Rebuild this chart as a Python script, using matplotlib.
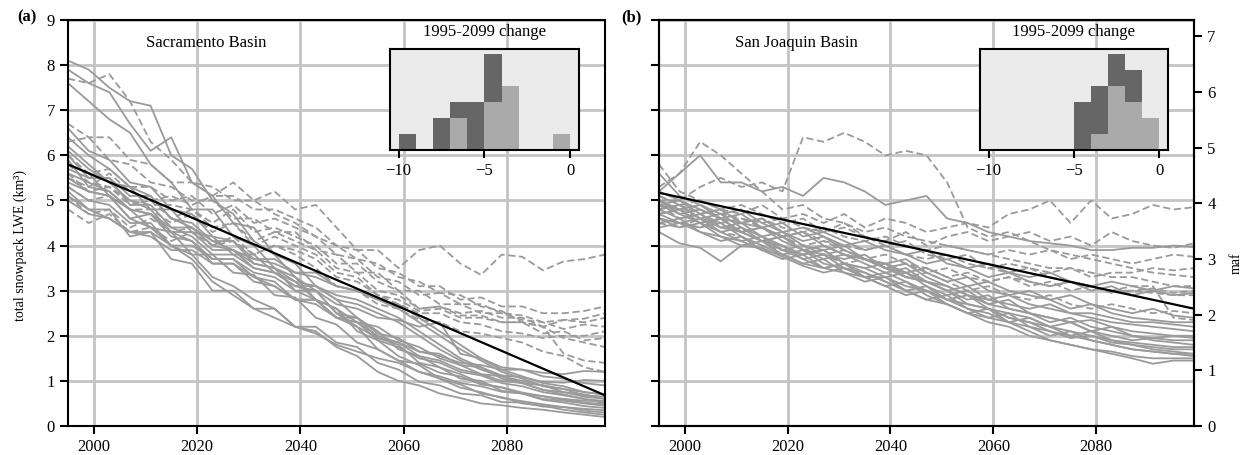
import matplotlib
matplotlib.use('Agg')
import matplotlib.pyplot as plt

plt.rcParams['font.family'] = ['Liberation Serif', 'DejaVu Serif']
plt.rcParams['font.size'] = 12

# years sampled every 4 years, 1995..2099
years = list(range(1995, 2100, 4))
KM3_PER_MAF = 1.2335

# Sacramento basin, km3 (solid runs)
sac_solid = [
    [8.1, 7.9, 7.5, 7.2, 7.1, 6.0, 5.7, 5.0, 4.7, 4.1, 3.8, 3.3, 3.0, 2.5, 2.2, 1.7, 1.45, 1.2, 1.05, 0.85, 0.75, 0.62, 0.55, 0.48, 0.42, 0.38, 0.35],
    [7.9, 7.6, 7.4, 6.7, 6.1, 6.4, 5.4, 5.1, 4.5, 4.4, 3.8, 3.6, 3.1, 2.8, 2.4, 2.1, 1.7, 1.55, 1.3, 1.15, 0.95, 0.85, 0.72, 0.66, 0.58, 0.52, 0.48],
    [7.6, 7.2, 6.8, 6.5, 5.8, 5.4, 4.8, 4.8, 4.2, 4.0, 3.5, 3.3, 2.8, 2.6, 2.1, 1.9, 1.55, 1.35, 1.05, 0.92, 0.72, 0.64, 0.5, 0.45, 0.36, 0.3, 0.25],
    [6.4, 6.0, 5.7, 5.3, 5.1, 4.6, 4.4, 4.1, 3.9, 3.6, 3.5, 3.2, 3.1, 2.9, 2.8, 2.6, 2.4, 2.1, 1.8, 1.5, 1.3, 1.05, 0.95, 0.8, 0.7, 0.6, 0.5],
    [6.1, 5.7, 5.4, 5.0, 4.8, 4.3, 4.1, 3.6, 3.6, 3.2, 3.1, 2.8, 2.7, 2.4, 2.2, 1.95, 1.85, 1.65, 1.55, 1.4, 1.35, 1.25, 1.25, 1.18, 1.15, 1.22, 1.2],
    [6.0, 5.5, 5.5, 4.9, 4.9, 4.4, 4.2, 3.8, 3.8, 3.5, 3.4, 3.1, 3.1, 2.8, 2.7, 2.5, 2.3, 2.0, 1.7, 1.45, 1.25, 1.1, 1.0, 0.9, 0.82, 0.75, 0.7],
    [5.8, 5.6, 5.1, 4.8, 4.4, 4.3, 3.8, 3.8, 3.4, 3.35, 2.9, 2.85, 2.4, 2.25, 1.85, 1.7, 1.45, 1.38, 1.18, 1.1, 0.92, 0.86, 0.74, 0.66, 0.6, 0.56, 0.55],
    [5.6, 5.4, 5.2, 4.8, 4.7, 4.3, 4.3, 3.9, 3.9, 3.5, 3.4, 3.1, 3.0, 2.7, 2.6, 2.4, 2.35, 2.2, 2.3, 1.6, 1.5, 1.3, 1.25, 1.1, 1.05, 0.95, 0.9],
    [5.5, 5.2, 5.1, 4.6, 4.4, 4.0, 3.8, 3.3, 3.1, 2.8, 2.6, 2.2, 2.1, 1.75, 1.55, 1.2, 1.0, 0.9, 0.72, 0.62, 0.5, 0.46, 0.4, 0.36, 0.3, 0.25, 0.2],
    [5.3, 5.0, 4.9, 4.5, 4.5, 4.0, 3.7, 3.2, 2.9, 2.6, 2.4, 2.2, 2.05, 1.8, 1.65, 1.5, 1.4, 1.2, 1.1, 0.95, 0.88, 0.76, 0.72, 0.6, 0.56, 0.5, 0.45],
    [5.2, 4.8, 4.6, 4.3, 4.2, 3.9, 3.9, 3.6, 3.6, 3.3, 3.1, 2.8, 2.8, 2.4, 2.3, 2.0, 1.85, 1.55, 1.45, 1.25, 1.15, 1.0, 0.95, 0.8, 0.75, 0.65, 0.6],
    [5.0, 4.7, 4.6, 4.3, 4.3, 4.0, 4.0, 3.7, 3.7, 3.4, 3.3, 3.0, 2.8, 2.4, 2.3, 1.9, 1.75, 1.5, 1.4, 1.2, 1.12, 0.95, 0.88, 0.75, 0.68, 0.6, 0.55],
    [5.9, 5.3, 5.2, 4.8, 4.7, 4.4, 4.4, 4.0, 3.9, 3.7, 3.6, 3.4, 3.3, 3.1, 3.0, 2.8, 2.7, 2.4, 2.1, 1.8, 1.5, 1.25, 1.1, 0.95, 0.88, 0.75, 0.7],
    [6.2, 5.8, 5.4, 5.3, 4.8, 4.8, 4.3, 4.2, 3.8, 3.8, 3.4, 3.2, 2.8, 2.6, 2.3, 2.2, 1.9, 1.75, 1.5, 1.35, 1.15, 1.1, 0.95, 0.9, 0.75, 0.7, 0.6],
    [5.4, 5.2, 5.1, 4.6, 4.7, 4.2, 4.1, 3.7, 3.7, 3.3, 3.2, 2.8, 2.8, 2.4, 2.4, 2.05, 1.95, 1.65, 1.6, 1.35, 1.3, 1.12, 1.08, 0.98, 0.96, 1.02, 1.0],
    [6.6, 6.1, 5.9, 5.4, 5.3, 4.8, 4.7, 4.2, 4.1, 3.6, 3.5, 3.0, 3.0, 2.5, 2.4, 1.95, 1.8, 1.4, 1.3, 1.05, 1.0, 0.78, 0.72, 0.58, 0.52, 0.44, 0.4],
    [5.7, 5.5, 5.5, 5.1, 5.1, 4.6, 4.5, 4.1, 4.1, 3.7, 3.7, 3.4, 3.4, 3.1, 3.0, 2.8, 2.6, 2.3, 2.0, 1.7, 1.45, 1.2, 1.05, 0.88, 0.82, 0.68, 0.65],
    [5.1, 4.8, 4.8, 4.2, 4.3, 3.7, 3.6, 3.0, 3.0, 2.6, 2.6, 2.2, 2.2, 1.85, 1.75, 1.4, 1.25, 0.98, 0.9, 0.72, 0.68, 0.53, 0.52, 0.43, 0.42, 0.34, 0.3],
]

# Sacramento basin, km3 (dashed runs)
sac_dashed = [
    [5.5, 5.3, 5.6, 5.2, 5.0, 5.1, 4.9, 5.1, 5.4, 5.0, 5.2, 4.8, 4.9, 4.4, 3.9, 3.9, 3.5, 3.9, 4.0, 3.6, 3.35, 3.8, 3.75, 3.45, 3.65, 3.7, 3.8],
    [7.7, 7.6, 7.8, 7.2, 6.3, 5.9, 5.4, 5.3, 5.0, 5.0, 4.7, 4.5, 4.2, 4.0, 3.7, 3.6, 3.3, 3.2, 2.95, 2.9, 2.65, 2.55, 2.3, 2.2, 1.95, 1.85, 1.75],
    [6.7, 6.4, 6.4, 5.9, 5.8, 5.4, 5.4, 5.1, 5.1, 4.8, 4.8, 4.6, 4.4, 4.0, 3.9, 3.5, 3.4, 3.1, 3.1, 2.8, 2.85, 2.65, 2.65, 2.5, 2.5, 2.55, 2.65],
    [6.3, 6.4, 5.9, 5.8, 5.4, 5.3, 5.0, 5.0, 4.6, 4.6, 4.3, 4.3, 3.9, 3.8, 3.4, 3.4, 3.0, 3.0, 2.7, 2.7, 2.5, 2.5, 2.35, 2.3, 2.15, 2.25, 2.2],
    [6.0, 5.6, 5.7, 5.3, 5.3, 5.0, 5.1, 4.7, 4.9, 4.5, 4.6, 4.4, 4.2, 3.8, 3.7, 3.3, 3.2, 2.9, 2.95, 2.7, 2.7, 2.5, 2.45, 2.3, 2.35, 2.3, 2.4],
    [5.8, 5.4, 5.3, 4.9, 5.0, 4.6, 4.8, 4.4, 4.5, 4.1, 4.3, 4.1, 3.9, 3.5, 3.4, 3.0, 2.9, 2.6, 2.65, 2.45, 2.45, 2.3, 2.3, 2.05, 2.1, 1.9, 1.95],
    [5.6, 5.2, 5.3, 5.0, 4.9, 4.9, 4.8, 4.5, 4.8, 4.3, 4.4, 4.2, 4.0, 3.6, 3.6, 3.2, 3.0, 2.6, 2.65, 2.5, 2.55, 2.4, 2.4, 2.2, 1.6, 1.45, 1.4],
    [5.3, 5.0, 5.1, 4.8, 4.8, 4.5, 4.7, 4.3, 4.5, 4.0, 4.2, 4.0, 3.8, 3.4, 3.3, 2.9, 2.8, 2.55, 2.6, 2.4, 2.4, 2.3, 2.3, 2.2, 2.35, 2.38, 2.5],
    [5.1, 4.7, 4.8, 4.4, 4.6, 4.3, 4.4, 4.0, 4.2, 3.8, 4.0, 3.8, 3.5, 3.1, 3.0, 2.7, 2.6, 2.35, 2.3, 2.1, 2.05, 1.95, 1.85, 1.65, 1.55, 1.3, 1.2],
    [4.8, 4.5, 4.7, 4.3, 4.4, 4.1, 4.3, 4.0, 4.1, 3.8, 4.0, 3.9, 3.7, 3.3, 3.2, 2.9, 2.7, 2.5, 2.5, 2.3, 2.25, 2.1, 2.05, 1.95, 2.0, 2.0, 2.1],
]

# San Joaquin basin, km3 (solid runs)
sj_solid = [
    [4.3, 4.05, 3.95, 3.65, 4.0, 3.95, 3.75, 3.55, 3.4, 3.5, 3.3, 3.3, 3.1, 3.0, 2.8, 2.7, 2.6, 2.4, 2.3, 2.2, 2.1, 2.0, 1.9, 1.8, 1.7, 1.65, 1.6],
    [5.2, 5.6, 6.0, 5.4, 5.4, 5.2, 5.3, 5.1, 5.5, 5.4, 5.2, 4.9, 5.0, 5.1, 4.6, 4.5, 4.3, 4.2, 4.1, 4.05, 4.0, 3.9, 3.9, 3.95, 3.95, 4.0, 3.97],
    [5.0, 4.8, 4.9, 4.6, 4.5, 4.6, 4.3, 4.4, 4.2, 4.0, 4.1, 3.9, 3.8, 3.9, 3.6, 3.5, 3.6, 3.4, 3.3, 3.4, 3.2, 3.1, 3.2, 3.1, 3.0, 3.1, 3.05],
    [4.9, 5.0, 4.7, 4.8, 4.5, 4.4, 4.5, 4.2, 4.3, 4.1, 3.9, 4.0, 3.8, 3.6, 3.7, 3.5, 3.3, 3.4, 3.2, 3.1, 3.2, 3.0, 3.1, 2.9, 3.0, 2.9, 2.95],
    [4.8, 4.6, 4.7, 4.4, 4.3, 4.4, 4.1, 3.9, 4.0, 3.8, 3.7, 3.6, 3.4, 3.5, 3.3, 3.1, 3.2, 3.0, 2.9, 2.8, 2.9, 2.7, 2.6, 2.5, 2.6, 2.45, 2.4],
    [5.1, 4.9, 4.6, 4.7, 4.4, 4.2, 4.3, 4.0, 3.9, 4.0, 3.7, 3.6, 3.7, 3.4, 3.2, 3.3, 3.0, 2.9, 3.0, 2.8, 2.6, 2.7, 2.5, 2.4, 2.35, 2.3, 2.3],
    [4.7, 4.8, 4.5, 4.3, 4.4, 4.1, 4.0, 3.8, 3.9, 3.6, 3.5, 3.6, 3.3, 3.2, 3.1, 2.9, 2.8, 2.9, 2.7, 2.6, 2.5, 2.5, 2.4, 2.3, 2.3, 2.25, 2.2],
    [5.0, 4.7, 4.8, 4.6, 4.3, 4.4, 4.2, 3.9, 3.7, 3.8, 3.6, 3.4, 3.5, 3.2, 3.0, 3.1, 2.8, 2.7, 2.6, 2.7, 2.5, 2.4, 2.3, 2.25, 2.2, 2.15, 2.1],
    [4.6, 4.5, 4.6, 4.3, 4.1, 4.2, 3.9, 3.8, 3.9, 3.6, 3.5, 3.3, 3.4, 3.1, 2.9, 3.0, 2.7, 2.6, 2.5, 2.4, 2.3, 2.35, 2.2, 2.1, 2.05, 2.0, 2.0],
    [4.9, 4.8, 4.5, 4.6, 4.3, 4.1, 4.2, 3.9, 3.8, 3.7, 3.8, 3.5, 3.3, 3.2, 3.0, 2.8, 2.9, 2.6, 2.5, 2.3, 2.4, 2.2, 2.1, 2.0, 1.95, 2.0, 1.95],
    [4.7, 4.5, 4.4, 4.5, 4.2, 4.0, 3.8, 3.9, 3.6, 3.5, 3.3, 3.4, 3.2, 3.0, 2.8, 2.9, 2.6, 2.5, 2.4, 2.2, 2.3, 2.1, 2.0, 1.9, 1.95, 1.9, 1.9],
    [5.2, 5.0, 4.8, 4.6, 4.7, 4.4, 4.2, 4.3, 4.0, 3.8, 3.7, 3.5, 3.6, 3.3, 3.1, 2.9, 2.7, 2.8, 2.5, 2.4, 2.3, 2.1, 2.2, 2.0, 1.9, 1.85, 1.8],
    [4.8, 4.9, 4.6, 4.4, 4.5, 4.2, 4.0, 3.7, 3.8, 3.5, 3.4, 3.2, 3.0, 3.1, 2.8, 2.6, 2.5, 2.3, 2.4, 2.2, 2.0, 2.1, 1.9, 1.85, 1.8, 1.75, 1.75],
    [4.6, 4.4, 4.5, 4.2, 4.1, 3.9, 3.8, 3.6, 3.5, 3.6, 3.3, 3.1, 3.2, 2.9, 2.7, 2.5, 2.6, 2.3, 2.2, 2.1, 1.95, 2.0, 1.85, 1.8, 1.75, 1.7, 1.7],
    [5.6, 5.1, 4.9, 4.7, 4.8, 4.5, 4.3, 4.1, 4.2, 3.9, 3.7, 3.5, 3.4, 3.2, 3.0, 2.7, 2.6, 2.4, 2.3, 2.1, 2.0, 1.9, 1.8, 1.7, 1.65, 1.6, 1.6],
    [4.5, 4.6, 4.3, 4.2, 4.0, 4.1, 3.8, 3.6, 3.7, 3.4, 3.2, 3.3, 3.0, 2.8, 2.9, 2.6, 2.4, 2.5, 2.2, 2.0, 2.1, 1.9, 1.8, 1.7, 1.65, 1.6, 1.55],
    [4.9, 4.7, 4.5, 4.6, 4.3, 4.1, 3.9, 3.7, 3.5, 3.6, 3.4, 3.2, 3.0, 2.8, 2.7, 2.5, 2.3, 2.2, 2.0, 1.9, 1.8, 1.7, 1.6, 1.5, 1.38, 1.45, 1.45],
    [4.4, 4.5, 4.3, 4.1, 4.2, 3.9, 3.7, 3.8, 3.5, 3.4, 3.3, 3.1, 2.9, 3.0, 2.7, 2.5, 2.4, 2.3, 2.1, 1.9, 1.8, 1.7, 1.65, 1.55, 1.5, 1.5, 1.5],
]

# San Joaquin basin, km3 (dashed runs)
sj_dashed = [
    [5.3, 5.6, 6.3, 6.0, 5.6, 5.2, 4.8, 4.9, 4.6, 4.5, 4.3, 4.4, 4.2, 4.1, 4.0, 3.9, 3.8, 3.7, 3.6, 3.5, 3.5, 3.4, 3.3, 3.3, 3.2, 3.1, 3.1],
    [5.0, 5.0, 5.3, 5.5, 5.3, 5.4, 5.2, 6.4, 6.3, 6.5, 6.3, 6.0, 6.1, 6.0, 5.4, 4.4, 4.2, 4.3, 4.1, 3.9, 3.8, 3.7, 3.6, 3.5, 3.4, 3.35, 3.3],
    [4.8, 4.9, 5.0, 4.8, 4.7, 4.9, 4.6, 4.7, 4.5, 4.7, 4.4, 4.6, 4.5, 4.3, 4.4, 4.5, 4.4, 4.7, 4.8, 5.0, 4.5, 5.0, 4.6, 4.7, 4.9, 4.8, 4.85],
    [5.0, 4.8, 4.9, 4.7, 4.6, 4.5, 4.6, 4.4, 4.3, 4.5, 4.2, 4.1, 4.3, 4.0, 4.2, 4.3, 4.1, 4.2, 4.3, 4.1, 4.2, 4.0, 4.3, 4.1, 4.0, 3.95, 4.05],
    [5.1, 4.9, 4.7, 4.8, 4.5, 4.6, 4.4, 4.3, 4.4, 4.2, 4.1, 4.2, 4.0, 3.9, 4.0, 3.9, 3.8, 3.9, 3.8, 3.9, 3.7, 3.8, 3.7, 3.6, 3.7, 3.8, 3.75],
    [4.7, 4.8, 4.6, 4.5, 4.6, 4.4, 4.2, 4.3, 4.1, 4.0, 3.9, 4.0, 3.8, 3.7, 3.8, 3.6, 3.5, 3.6, 3.5, 3.4, 3.5, 3.3, 3.4, 3.4, 3.5, 3.45, 3.5],
    [4.9, 4.6, 4.7, 4.5, 4.3, 4.4, 4.2, 4.0, 4.1, 3.9, 3.7, 3.8, 3.6, 3.4, 3.5, 3.3, 3.2, 3.3, 3.1, 3.2, 3.0, 3.1, 2.95, 3.0, 3.05, 2.95, 3.0],
    [4.6, 4.5, 4.4, 4.6, 4.3, 4.1, 4.2, 3.9, 3.8, 3.9, 3.7, 3.5, 3.6, 3.5, 3.3, 3.4, 3.2, 3.3, 3.2, 3.1, 3.2, 3.1, 3.0, 3.1, 3.1, 2.4, 2.35],
    [4.5, 4.4, 4.6, 4.3, 4.2, 4.0, 3.9, 4.0, 3.8, 3.6, 3.7, 3.5, 3.3, 3.4, 3.2, 3.0, 3.1, 2.9, 2.8, 2.9, 2.7, 2.6, 2.7, 2.6, 2.5, 2.55, 2.5],
    [5.8, 5.2, 5.0, 4.8, 4.9, 4.7, 4.5, 4.6, 4.3, 4.4, 4.2, 4.0, 4.1, 3.8, 3.7, 3.8, 3.5, 3.4, 3.5, 3.3, 3.2, 3.1, 3.0, 3.0, 2.95, 2.9, 2.9],
]

# linear trend end points (1995, 2099), km3
trend_years = [1995, 2099]
sac_trend = [5.8, 0.68]
sj_trend = [5.17, 2.6]

# inset histograms of 1995-2099 change (bins of width 1, left edges)
hist_left = [-10, -9, -8, -7, -6, -5, -4, -3, -2, -1]
sac_hist_dark = [1, 0, 2, 3, 3, 6, 0, 0, 0, 0]
sac_hist_light = [0, 0, 0, 2, 0, 3, 4, 0, 0, 1]
sj_hist_dark = [0, 0, 0, 0, 0, 3, 4, 6, 5, 0]
sj_hist_light = [0, 0, 0, 0, 0, 0, 1, 4, 3, 2]

LINE = '#9a9a9a'
GRID = '#c4c4c4'
W, H = 1245, 455

fig = plt.figure(figsize=(W / 100, H / 100), dpi=100)


def px_rect(x0, y0, x1, y1):
    return [x0 / W, 1 - y1 / H, (x1 - x0) / W, (y1 - y0) / H]


def style_axes(ax):
    for s in ax.spines.values():
        s.set_linewidth(1.5)
    ax.tick_params(direction='out', length=6, width=1.5, labelsize=12)


def draw_panel(rect, solid, dashed, trend, name):
    ax = fig.add_axes(rect)
    for ys in solid:
        ax.plot(years, ys, color=LINE, lw=1.3, ls='-')
    for ys in dashed:
        ax.plot(years, ys, color=LINE, lw=1.3, ls=(0, (4, 2)))
    ax.plot(trend_years, trend, color='black', lw=1.6)
    ax.set_xlim(1995, 2099)
    ax.set_ylim(0, 9)
    ax.set_xticks([2000, 2020, 2040, 2060, 2080])
    ax.set_yticks(range(10))
    ax.grid(True, color=GRID, lw=2)
    ax.set_axisbelow(True)
    style_axes(ax)
    ax.text(0.257, 0.943, name, transform=ax.transAxes, ha='center',
            va='center', fontsize=12)
    return ax


def draw_inset(rect, dark, light):
    ins = fig.add_axes(rect, facecolor='#ebebeb')
    ins.bar(hist_left, dark, width=1, align='edge', color='#666666', lw=0)
    ins.bar(hist_left, light, width=1, align='edge', color='#aaaaaa', lw=0)
    ins.set_xlim(-10.5, 0.5)
    ins.set_ylim(0, 6.3)
    ins.set_yticks([])
    ins.set_xticks([-10, -5, 0])
    ins.tick_params(length=5)
    style_axes(ins)
    ins.set_title('1995-2099 change', fontsize=12, pad=9)
    return ins


ax1 = draw_panel(px_rect(68, 20, 605, 426), sac_solid, sac_dashed, sac_trend,
                 'Sacramento Basin')
ax1.set_ylabel('total snowpack LWE (km³)', fontsize=10)
ax1.yaxis.set_label_coords(-0.076, 0.445)

ax2 = draw_panel(px_rect(659, 20, 1194, 426), sj_solid, sj_dashed, sj_trend,
                 'San Joaquin Basin')
ax2.set_yticklabels([])
tw = ax2.twinx()
tw.set_ylim(0, 9 / KM3_PER_MAF)
tw.set_yticks(range(8))
style_axes(tw)
tw.set_ylabel('maf', fontsize=10)
tw.yaxis.set_label_coords(1.066, 0.40)

draw_inset(px_rect(390, 49, 579, 150), sac_hist_dark, sac_hist_light)
draw_inset(px_rect(980, 49, 1168, 150), sj_hist_dark, sj_hist_light)

fig.text(27 / W, 1 - 17 / H, '(a)', fontweight='bold', ha='center',
         va='center', fontsize=12)
fig.text(631 / W, 1 - 17 / H, '(b)', fontweight='bold', ha='center',
         va='center', fontsize=12)

fig.savefig('out.png', dpi=100)
